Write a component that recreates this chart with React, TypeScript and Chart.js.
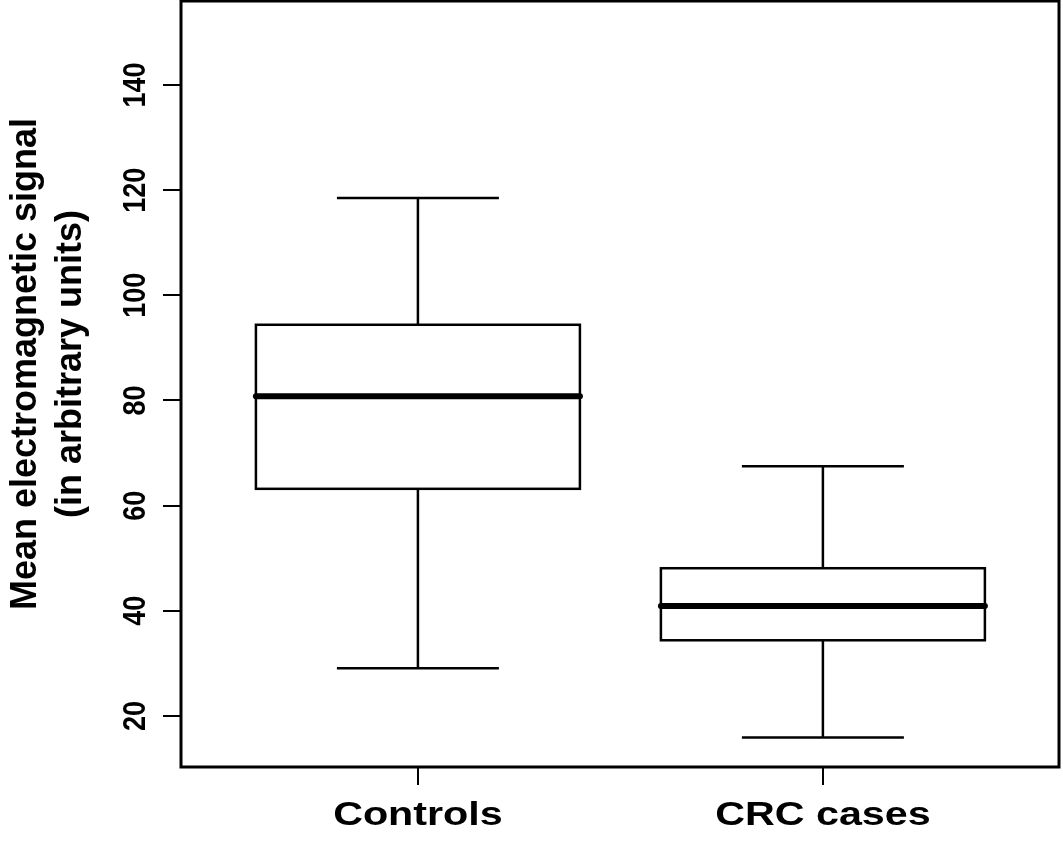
import React, { useEffect, useRef } from 'react';
import { Chart, registerables } from 'chart.js';

Chart.register(...registerables);

const CATEGORIES = ['Controls', 'CRC cases'];
const WHISKER_LOW = [29.1, 15.9];
const Q1 = [63.2, 34.4];
const MEDIAN = [80.8, 40.9];
const Q3 = [94.4, 48.1];
const WHISKER_HIGH = [118.5, 67.5];
const Y_TICKS = [20, 40, 60, 80, 100, 120, 140];
const Y_TITLE = ['Mean electromagnetic signal', '(in arbitrary units)'];

const FONT = '"Liberation Sans", Arial, sans-serif';

export default function App() {
  const ref = useRef<HTMLCanvasElement>(null);

  useEffect(() => {
    document.body.style.margin = '0';
    const canvas = ref.current!;

    const boxPlugin = {
      id: 'boxplotDraw',
      afterDatasetsDraw(chart: any) {
        const ctx = chart.ctx as CanvasRenderingContext2D;
        const xs = chart.scales.x;
        const ys = chart.scales.y;
        const line = (x1: number, y1: number, x2: number, y2: number) => {
          ctx.beginPath();
          ctx.moveTo(x1, y1);
          ctx.lineTo(x2, y2);
          ctx.stroke();
        };
        ctx.save();
        ctx.strokeStyle = '#000';
        CATEGORIES.forEach((_, i) => {
          const c = i + 1;
          const xl = xs.getPixelForValue(c - 0.4);
          const xr = xs.getPixelForValue(c + 0.4);
          const cl = xs.getPixelForValue(c - 0.2);
          const cr = xs.getPixelForValue(c + 0.2);
          const xc = xs.getPixelForValue(c);
          const yLo = ys.getPixelForValue(WHISKER_LOW[i]);
          const yQ1 = ys.getPixelForValue(Q1[i]);
          const yMed = ys.getPixelForValue(MEDIAN[i]);
          const yQ3 = ys.getPixelForValue(Q3[i]);
          const yHi = ys.getPixelForValue(WHISKER_HIGH[i]);
          ctx.lineWidth = 2.5;
          ctx.lineCap = 'butt';
          line(xc, yQ3, xc, yHi);
          line(xc, yQ1, xc, yLo);
          line(cl, yHi, cr, yHi);
          line(cl, yLo, cr, yLo);
          ctx.strokeRect(xl, yQ3, xr - xl, yQ1 - yQ3);
          ctx.lineWidth = 6;
          ctx.lineCap = 'round';
          line(xl, yMed, xr, yMed);
        });
        ctx.restore();
      },
      afterDraw(chart: any) {
        const ctx = chart.ctx as CanvasRenderingContext2D;
        const area = chart.chartArea;
        const xs = chart.scales.x;
        const ys = chart.scales.y;
        ctx.save();
        // frame
        ctx.strokeStyle = '#000';
        ctx.lineWidth = 3;
        ctx.strokeRect(area.left, area.top, area.right - area.left, area.bottom - area.top);

        ctx.fillStyle = '#000';
        // y tick labels (rotated)
        ctx.font = `bold 27px ${FONT}`;
        ctx.textAlign = 'center';
        ctx.textBaseline = 'alphabetic';
        Y_TICKS.forEach((v) => {
          const py = ys.getPixelForValue(v);
          ctx.save();
          ctx.translate(145, py);
          ctx.rotate(-Math.PI / 2);
          ctx.scale(1, 1.15);
          ctx.fillText(String(v), 0, 0);
          ctx.restore();
        });

        // x labels
        ctx.font = `bold 33px ${FONT}`;
        CATEGORIES.forEach((label, i) => {
          const px = xs.getPixelForValue(i + 1);
          ctx.save();
          ctx.translate(px, 825);
          ctx.scale(1.25, 1);
          ctx.fillText(label, 0, 0);
          ctx.restore();
        });

        // y title
        ctx.font = `bold 36px ${FONT}`;
        const baselines = [36, 81];
        Y_TITLE.forEach((t, i) => {
          ctx.save();
          ctx.translate(baselines[i], 364);
          ctx.rotate(-Math.PI / 2);
          ctx.fillText(t, 0, 0);
          ctx.restore();
        });
        ctx.restore();
      },
    };

    const chart = new Chart(canvas, {
      type: 'scatter',
      data: { datasets: [{ data: [] }] },
      options: {
        responsive: false,
        animation: false,
        layout: { padding: { top: 1, right: 4, left: 0, bottom: 0 } },
        plugins: { legend: { display: false }, tooltip: { enabled: false } },
        scales: {
          x: {
            type: 'linear',
            position: 'bottom',
            min: 0.415,
            max: 2.583,
            afterBuildTicks: (s: any) => {
              s.ticks = CATEGORIES.map((_, i) => ({ value: i + 1 }));
            },
            afterFit: (s: any) => {
              s.height = 93;
            },
            ticks: { display: false },
            grid: {
              drawOnChartArea: false,
              drawTicks: true,
              tickLength: 18,
              color: '#000',
              lineWidth: 2,
            },
            border: { display: false },
          },
          y: {
            type: 'linear',
            position: 'left',
            min: 10.3,
            max: 155.97,
            afterBuildTicks: (s: any) => {
              s.ticks = Y_TICKS.map((v) => ({ value: v }));
            },
            afterFit: (s: any) => {
              s.width = 181;
            },
            ticks: { display: false },
            grid: {
              drawOnChartArea: false,
              drawTicks: true,
              tickLength: 18,
              color: '#000',
              lineWidth: 2,
            },
            border: { display: false },
          },
        },
      },
      plugins: [boxPlugin],
    } as any);

    return () => chart.destroy();
  }, []);

  return (
    <div style={{ width: 1063, height: 860 }}>
      <canvas ref={ref} width={1063} height={860} style={{ display: 'block' }} />
    </div>
  );
}
